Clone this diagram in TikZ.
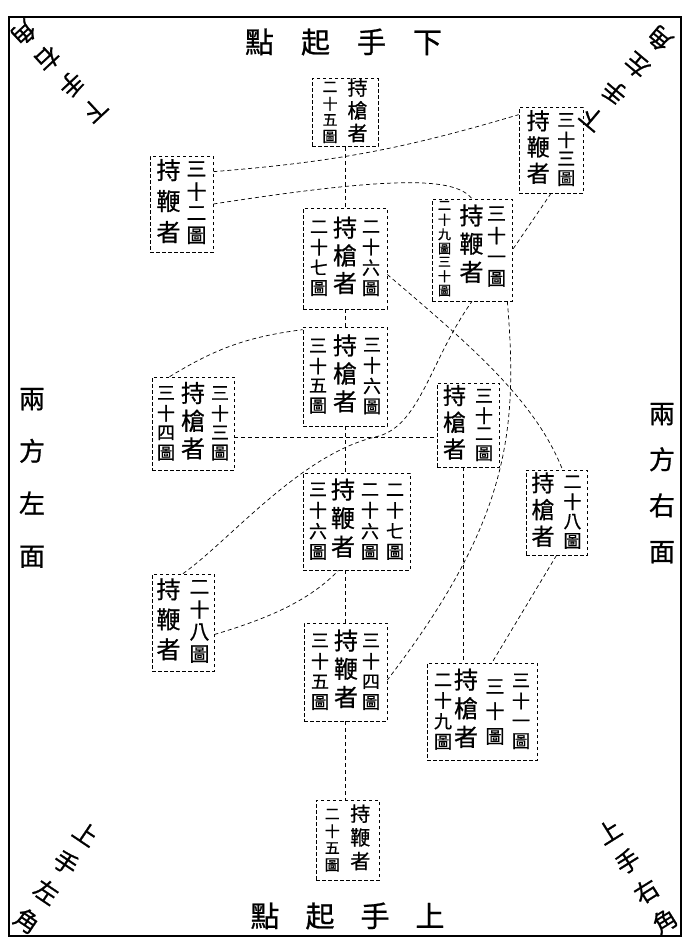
\documentclass[tikz,border=0pt]{standalone}
\usepackage{fontspec}
\newfontfamily\cjk{Noto Sans CJK TC}[FakeBold=0.8]
\usetikzlibrary{calc}
\newcommand{\vcol}[3]{{\fontsize{#1}{#2}\selectfont\begin{tabular}{@{}c@{}}#3\end{tabular}}}
\tikzset{
	figbox/.style={draw, dash pattern=on 3.5pt off 2.5pt, line width=0.7pt, inner sep=0pt, font=\cjk},
	route/.style={dash pattern=on 4pt off 3pt, line width=0.7pt},
	tag/.style={font=\cjk, inner sep=0pt}
}

\begin{document}
\begin{tikzpicture}[x=1pt,y=-1pt]
	\useasboundingbox (0,0) rectangle (686,943);
	\draw[line width=1.2pt] (9,17) rectangle (681,936);
	\node[tag, font=\cjk\fontsize{29}{29}\selectfont] (top title) at (343.5,42) {點\hspace{27pt}起\hspace{27pt}手\hspace{27pt}下};
	\node[tag, font=\cjk\fontsize{29}{29}\selectfont] (bottom title) at (347.5,916) {點\hspace{26pt}起\hspace{26pt}手\hspace{26pt}上};
	\node[tag] (left side) at (32,476.5) {\vcol{26}{52.5}{兩\\方\\左\\面}};
	\node[tag] (right side) at (662,483) {\vcol{26}{46}{兩\\方\\右\\面}};
	\node[tag, rotate=-137] (ul corner) at (58,70) {\vcol{24}{35}{下\\手\\右\\角}};
	\node[tag, rotate=140] (ur corner) at (627,77) {\vcol{24}{35}{下\\手\\左\\角}};
	\node[tag, rotate=-34] (ll corner) at (55,879) {\vcol{24}{35}{上\\手\\左\\角}};
	\node[tag, rotate=32] (lr corner) at (638,878) {\vcol{24}{35}{上\\手\\右\\角}};

	\node[figbox, minimum width=66pt, minimum height=67pt] (b1) at (345,112.5) {\vcol{15}{15.5}{二\\十\\五\\圖}\hspace{10pt}\vcol{20}{19.5}{持\\槍\\者}};
	\node[figbox, minimum width=63pt, minimum height=96pt] (b2) at (181.5,204) {\vcol{24}{31}{持\\鞭\\者}\hspace{6pt}\vcol{20}{21}{三\\十\\二\\圖}};
	\node[figbox, minimum width=84pt, minimum height=101pt] (b3) at (345,258.5) {\vcol{18}{19}{二\\十\\七\\圖}\hspace{5pt}\vcol{24}{25}{持\\槍\\者}\hspace{5pt}\vcol{18}{19}{二\\十\\六\\圖}};
	\node[figbox, minimum width=64pt, minimum height=86pt] (b4) at (551,150) {\vcol{23}{23}{持\\鞭\\者}\hspace{7.5pt}\vcol{18}{17}{三\\十\\三\\圖}};
	\node[figbox, minimum width=80pt, minimum height=102pt] (b5) at (472,250) {\vcol{13}{12.3}{二\\十\\九\\圖\\三\\十\\圖}\hspace{8.5pt}\vcol{24}{27}{持\\鞭\\者}\hspace{3.5pt}\vcol{19}{21}{三\\十\\一\\圖}};
	\node[figbox, minimum width=84pt, minimum height=99pt] (b6) at (345,376.5) {\vcol{18}{19}{三\\十\\五\\圖}\hspace{6pt}\vcol{24}{26}{持\\槍\\者}\hspace{6pt}\vcol{18}{19}{三\\十\\六\\圖}};
	\node[figbox, minimum width=82pt, minimum height=93pt] (b7) at (193,423.5) {\vcol{18}{18.5}{三\\十\\四\\圖}\hspace{6pt}\vcol{24}{25}{持\\槍\\者}\hspace{6pt}\vcol{18}{18.5}{三\\十\\三\\圖}};
	\node[figbox, minimum width=62pt, minimum height=84pt] (b8) at (468,425) {\vcol{23}{24.5}{持\\槍\\者}\hspace{9pt}\vcol{18}{17}{三\\十\\二\\圖}};
	\node[figbox, minimum width=61pt, minimum height=85pt] (b9) at (556.5,512.5) {\vcol{23}{24.5}{持\\槍\\者}\hspace{9pt}\vcol{18}{17.5}{二\\十\\八\\圖}};
	\node[figbox, minimum width=107pt, minimum height=97pt] (b10) at (356.5,521.5) {\vcol{18}{20}{三\\十\\六\\圖}\hspace{4pt}\vcol{24}{28}{持\\鞭\\者}\hspace{6pt}\vcol{18}{20}{二\\十\\六\\圖}\hspace{7pt}\vcol{18}{20}{二\\十\\七\\圖}};
	\node[figbox, minimum width=62pt, minimum height=97pt] (b11) at (183,622.5) {\vcol{24}{30}{持\\鞭\\者}\hspace{9pt}\vcol{20}{21}{二\\十\\八\\圖}};
	\node[figbox, minimum width=83pt, minimum height=98pt] (b12) at (345.5,672) {\vcol{18}{20}{三\\十\\五\\圖}\hspace{5pt}\vcol{24}{27}{持\\鞭\\者}\hspace{4pt}\vcol{18}{20}{三\\十\\四\\圖}};
	\node[figbox, minimum width=110pt, minimum height=97pt] (b13) at (482,711.5) {\vcol{18}{19.5}{二\\十\\九\\圖}\hspace{2pt}\vcol{24}{28}{持\\槍\\者}\hspace{7.5pt}\vcol{19}{25}{三\\十\\圖}\hspace{7.5pt}\vcol{18}{19.5}{三\\十\\一\\圖}};
	\node[figbox, minimum width=63pt, minimum height=80pt] (b14) at (347.5,840) {\vcol{15}{16.5}{二\\十\\五\\圖}\hspace{10.5pt}\vcol{20}{23}{持\\鞭\\者}};

	\draw[route] (b1.south) -- (b3.north);
	\draw[route] (b3.south) -- (b6.north);
	\draw[route] (b6.south) -- (b6.south |- b10.north);
	\draw[route] (b10.south -| b12.north) -- (b12.north);
	\draw[route] (b12.south) -- (b12.south |- b14.north);
	\draw[route] ([yshift=-16pt]b2.north east) to[bend right=6] ([yshift=-8pt]b4.north west);
	\draw[route] (b2.east) .. controls (400,175) and (455,178) .. (b5.north);
	\draw[route] (b4.south) -- (b5.east);
	\draw[route] ([xshift=18pt]b7.north west) to[bend left=12] ([yshift=-3pt]b6.north west);
	\draw[route] ([yshift=-14pt]b7.east) -- ([yshift=-14pt]b7.east -| b8.west);
	\draw[route] (b11.north) .. controls (230,540) and (300,455) .. (375,437) .. controls (420,428) and (430,360) .. (b5.south);
	\draw[route] ([yshift=-16pt]b3.east) .. controls (470,345) and (535,400) .. ([xshift=6pt]b9.north);
	\draw[route] ([xshift=-5pt]b5.south east) .. controls (518,430) and (510,520) .. ([yshift=-8pt]b12.east);
	\draw[route] ([xshift=-5pt]b8.south) -- ([xshift=-5pt]b8.south |- b13.north);
	\draw[route] (b9.south) -- ([xshift=10pt]b13.north);
	\draw[route] ([yshift=-12pt]b11.east) .. controls (270,618) and (310,600) .. ([xshift=-18pt]b10.south);
\end{tikzpicture}
\end{document}
